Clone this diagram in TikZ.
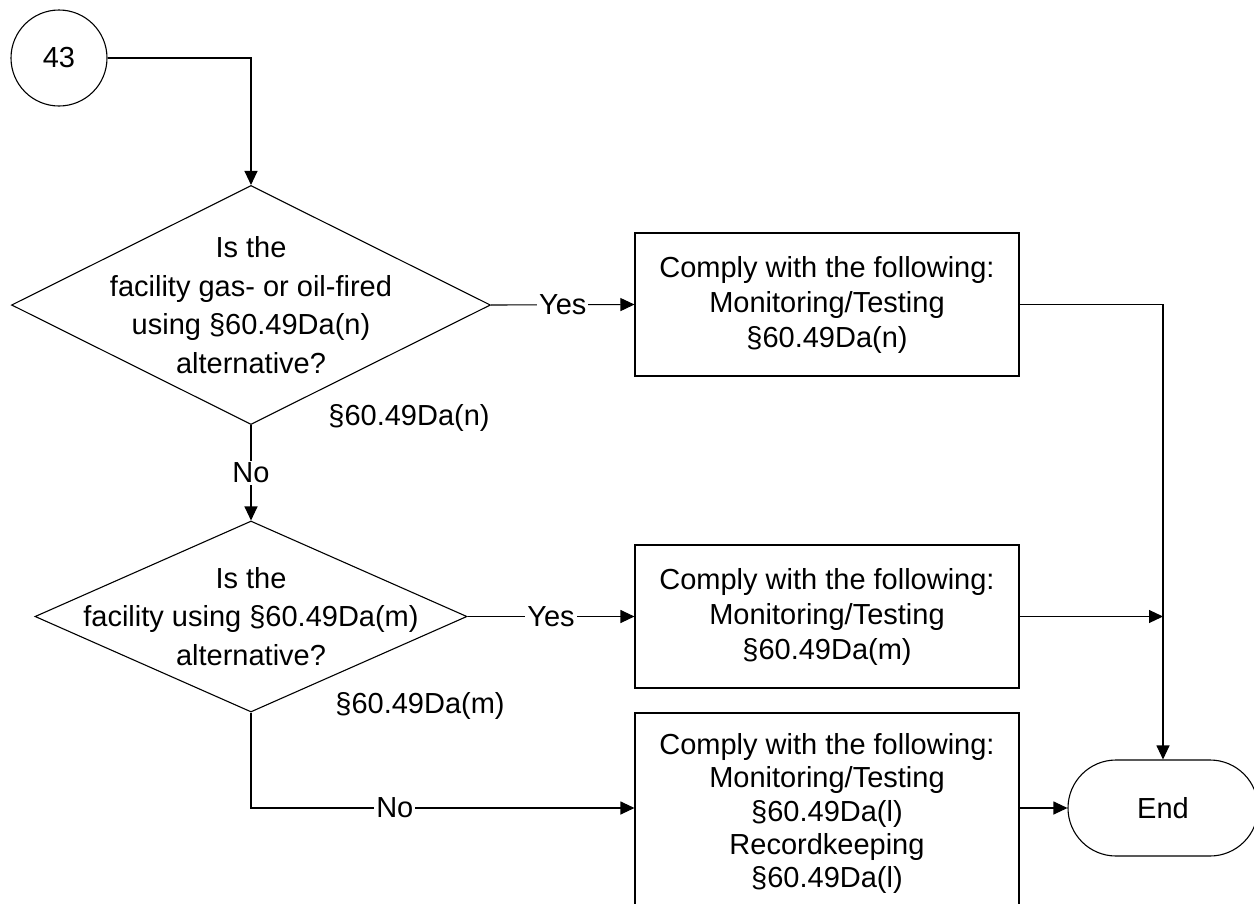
\documentclass[tikz,border=0pt]{standalone}
\usepackage{fontspec}
\setmainfont{Liberation Sans}
\usetikzlibrary{shapes.geometric,shapes.misc,arrows.meta}
\begin{document}
\begin{tikzpicture}[x=1pt,y=-1pt,
  line/.style={draw=black,line width=1.1pt},
  arr/.style={line,-{Triangle[length=14pt,width=13pt]}},
  txt/.style={font=\fontsize{29}{35}\selectfont,align=center,inner sep=0pt},
  dtxt/.style={font=\fontsize{29}{38.5}\selectfont,align=center,inner sep=0pt},
  decision/.style={draw=black,line width=1.1pt,diamond,inner sep=0pt},
  procbox/.style={draw=black,line width=1.1pt,rectangle,minimum width=384pt,inner sep=0pt,font=\fontsize{29}{35}\selectfont,align=center},
  lbl/.style={fill=white,inner sep=2pt,font=\fontsize{29}{35}\selectfont}
]
\useasboundingbox (0,0) rectangle (1254,903);
\clip (0,0) rectangle (1254,903);

\node[draw=black,line width=1.1pt,circle,minimum size=96pt,inner sep=0pt,font=\fontsize{29}{35}\selectfont] (c43) at (59,58) {43};

\node[decision,minimum width=479pt,minimum height=239pt] (d1) at (251,305) {};
\node[dtxt] (d1t) at (251,305) {Is the\\facility gas- or oil-fired\\using §60.49Da(n)\\alternative?};
\node[txt] (d1r) at (409,418) {§60.49Da(n)};

\node[decision,minimum width=432pt,minimum height=191pt] (d2) at (251,616.5) {};
\node[dtxt] (d2t) at (251,616.5) {Is the\\facility using §60.49Da(m)\\alternative?};
\node[txt] (d2r) at (420,706) {§60.49Da(m)};

\node[procbox,minimum height=143pt] (b1) at (827,304.5) {Comply with the following:\\Monitoring/Testing\\§60.49Da(n)};
\node[procbox,minimum height=143pt] (b2) at (827,616.5) {Comply with the following:\\Monitoring/Testing\\§60.49Da(m)};
\node[procbox,minimum height=201pt,font=\fontsize{29}{33.3}\selectfont] (b3) at (827,813.5) {Comply with the following:\\Monitoring/Testing\\§60.49Da(l)\\Recordkeeping\\§60.49Da(l)};
\coordinate (b3in) at ([yshift=5.5pt]b3.west);
\coordinate (b3out) at ([yshift=5.5pt]b3.east);

\node[draw=black,line width=1.1pt,rounded rectangle,minimum width=190pt,minimum height=96pt,inner sep=0pt,font=\fontsize{29}{35}\selectfont] (end) at (1163,808) {End};

\draw[arr] (c43.east) -| (d1.north);
\draw[arr] (d1.east) -- node[lbl]{Yes} (b1.west);
\draw[arr] (d1.south) -- node[lbl]{No} (d2.north);
\draw[arr] (d2.east) -- node[lbl]{Yes} (b2.west);
\draw[arr] (d2.south) |- node[lbl,pos=0.6875]{No} (b3in);
\draw[arr] (b1.east) -| (end.north);
\coordinate (j) at (end.north |- b2.east);
\draw[arr] (b2.east) -- (j);
\draw[arr] (b3out) -- (end.west);
\end{tikzpicture}
\end{document}
